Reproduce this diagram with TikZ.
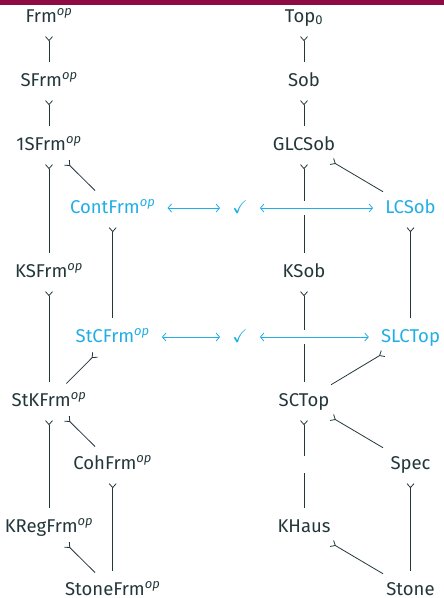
\documentclass[tikz,border=0pt]{standalone}
\usepackage{fontspec}
\setmainfont{Fira Sans}
\usepackage{amssymb}
\usetikzlibrary{arrows.meta, calc}
\definecolor{darkteal}{RGB}{35,55,59}
\definecolor{hlblue}{RGB}{33,174,230}
\definecolor{barred}{RGB}{142,12,67}
\newcommand{\opcat}[1]{#1\textsuperscript{\itshape op}}

\begin{document}
\begin{tikzpicture}[x=1pt, y=-1pt,
  obj/.style={text=darkteal, font=\fontsize{18.5}{22}\selectfont,
    text height=13pt, text depth=3pt, inner xsep=5pt, inner ysep=5pt, anchor=base},
  hl/.style={obj, text=hlblue},
  mono/.style={draw=darkteal, line width=0.8pt,
    {Straight Barb[reversed, length=4pt, width=7pt]}-, shorten <=6pt, shorten >=6pt},
  equiv/.style={draw=hlblue, line width=0.8pt,
    {Straight Barb[length=3.5pt, width=8pt]}-{Straight Barb[length=3.5pt, width=8pt]},
    shorten <=7pt, shorten >=7pt, preaction={draw=white, line width=14pt, -}}]
  \useasboundingbox (0,0) rectangle (444,598);
  \fill[barred] (0,0) rectangle (444,5);

  % frames side
  \node[obj] (frm)      at (49,22)    {\opcat{Frm}};
  \node[obj] (sfrm)     at (49,86)    {\opcat{SFrm}};
  \node[obj] (osfrm)    at (49,150)   {\opcat{1SFrm}};
  \node[hl]  (contfrm)  at (112.7,213) {\opcat{ContFrm}};
  \node[obj] (ksfrm)    at (49,277)   {\opcat{KSFrm}};
  \node[hl]  (stcfrm)   at (112.7,342) {\opcat{StCFrm}};
  \node[obj] (stkfrm)   at (49,406)   {\opcat{StKFrm}};
  \node[obj] (cohfrm)   at (112.7,469) {\opcat{CohFrm}};
  \node[obj] (kregfrm)  at (49,532)   {\opcat{KRegFrm}};
  \node[obj] (stonefrm) at (112.7,595) {\opcat{StoneFrm}};

  % spaces side
  \node[obj] (topz)   at (304,22)    {Top\textsubscript{0}};
  \node[obj] (sob)    at (304,86)    {Sob};
  \node[obj] (glcsob) at (304,150)   {GLCSob};
  \node[hl]  (lcsob)  at (410.5,213) {LCSob};
  \node[obj] (ksob)   at (304,277)   {KSob};
  \node[hl]  (slctop) at (410.5,342) {SLCTop};
  \node[obj] (sctop)  at (304,406)   {SCTop};
  \node[obj] (spec)   at (410.5,469) {Spec};
  \node[obj] (khaus)  at (304,532)   {KHaus};
  \node[obj] (stone)  at (410.5,595) {Stone};

  \node[hl] (chka) at (240,213) {$\checkmark$};
  \node[hl] (chkb) at (240,342) {$\checkmark$};

  % embeddings
  \draw[mono] (frm) -- (sfrm);
  \draw[mono] (sfrm) -- (osfrm);
  \draw[mono] (osfrm) -- (ksfrm);
  \draw[mono] (osfrm) -- (contfrm);
  \draw[mono] (contfrm) -- (stcfrm);
  \draw[mono] (ksfrm) -- (stkfrm);
  \draw[mono] (stcfrm) -- (stkfrm);
  \draw[mono] (stkfrm) -- (kregfrm);
  \draw[mono] (stkfrm) -- (cohfrm);
  \draw[mono] (cohfrm) -- (stonefrm);
  \draw[mono] (kregfrm) -- (stonefrm);

  \draw[mono] (topz) -- (sob);
  \draw[mono] (sob) -- (glcsob);
  \draw[mono] (glcsob) -- (ksob);
  \draw[mono] (glcsob) -- (lcsob);
  \draw[mono] (ksob) -- (sctop);
  \draw[mono] (lcsob) -- (slctop);
  \draw[mono] (slctop) -- (sctop);
  \draw[mono] (sctop) -- (khaus);
  \draw[mono] (sctop) -- (spec);
  \draw[mono] (spec) -- (stone);
  \draw[mono] (khaus) -- (stone);
  \fill[white] ($(sctop)!0.5!(khaus)$) +(-3,-8.5) rectangle +(3,8.5);

  % dualities
  \draw[equiv] (contfrm) -- (chka);
  \draw[equiv] (chka) -- (lcsob);
  \draw[equiv] (stcfrm) -- (chkb);
  \draw[equiv] (chkb) -- (slctop);
\end{tikzpicture}
\end{document}
